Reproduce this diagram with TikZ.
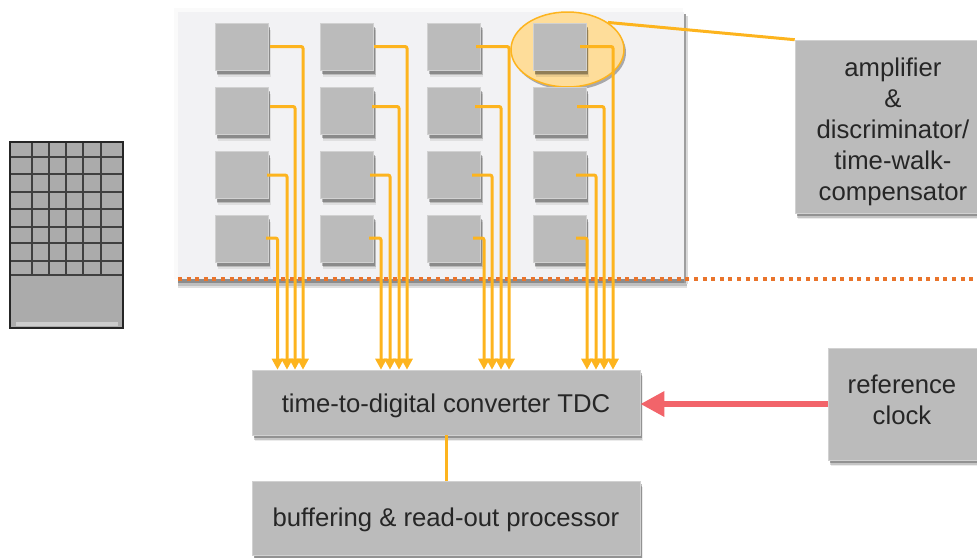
\documentclass[tikz,border=0pt]{standalone}
\usepackage{fontspec}
\setmainfont{Liberation Sans}
\usetikzlibrary{arrows.meta,shadows,calc,shapes.geometric}
\definecolor{wire}{HTML}{FDB41E}
\definecolor{boxgray}{HTML}{BBBBBB}
\definecolor{redarrow}{HTML}{F2646A}
\definecolor{dots}{HTML}{E9742B}
\definecolor{panelgray}{HTML}{F2F2F4}
\definecolor{chipgray}{HTML}{ABABAB}
\newcommand{\lift}[1]{\rule{0pt}{#1pt}}
\tikzset{
  softshadow/.style={
    general shadow={shadow xshift=2.5pt,shadow yshift=-6pt,fill=black,opacity=.08},
    general shadow={shadow xshift=2pt,shadow yshift=-4.5pt,fill=black,opacity=.16},
    general shadow={shadow xshift=1.5pt,shadow yshift=-3pt,fill=black,opacity=.26}},
  cell/.style={draw=black!18,line width=.6pt,fill=boxgray,minimum width=53pt,minimum height=47pt,inner sep=0pt,softshadow},
  bigbox/.style={draw=black!18,line width=.6pt,fill=boxgray,inner sep=0pt,align=center,softshadow,font=\fontsize{25.7}{31}\selectfont,text=black!85},
  sig/.style={draw=wire,line width=3pt,rounded corners=2pt},
  sigarrow/.style={sig,-{Triangle[width=11pt,length=11pt]}},
  chipline/.style={draw=black!75,line width=1.3pt}
}
\begin{document}
\begin{tikzpicture}[x=1pt,y=-1pt]
\useasboundingbox (0,0) rectangle (977,557);
% panel
\fill[black!2] (174,8) rectangle (683,279);
\fill[panelgray] (178,12) rectangle (684,279);
\fill[black!12] (178,283) rectangle (687,288);
\fill[black!25] (178,282) rectangle (687,285.5);
\fill[black!45] (178,279) rectangle (686,283);
\fill[black!15] (686,16) rectangle (688,284);
\fill[black!38] (683.5,14) rectangle (686,283);
% ellipse
\node[draw=wire,line width=1.5pt,fill=wire!45,ellipse,inner sep=0pt,minimum width=113pt,minimum height=75pt,
      general shadow={shadow xshift=2pt,shadow yshift=-3pt,fill=black,opacity=.3}] (ell) at (567.5,49.5) {};
% cells
\foreach \cx [count=\c] in {241.5,347,454,559.5}
  \foreach \cy [count=\r] in {47,111,175,239}
    \node[cell] (s\c\r) at (\cx,\cy) {};
% boxes
\node[bigbox,minimum width=388pt,minimum height=65pt] (tdc) at (446,402.5) {\lift{25}time-to-digital converter TDC};
\node[bigbox,minimum width=388pt,minimum height=74pt] (buf) at (446,518) {\lift{23}buffering \& read-out processor};
\node[bigbox,minimum width=196pt,minimum height=173pt] (amp) at (893,126.5) {\lift{29}amplifier\\\&\\discriminator/\\time-walk-\\compensator};
\node[bigbox,minimum width=158pt,minimum height=112pt] (clk) at (907,404) {\hspace*{-10pt}reference\\\hspace*{-10pt}clock\rule[-8pt]{0pt}{8pt}};
% dotted border
\coordinate (dotL) at (178,279);
\coordinate (dotR) at (977,279);
\draw[dots,line width=3.5pt,dash pattern=on 4pt off 4.6pt] (dotL) -- (dotR);
% wires
\foreach \sx/\wy/\vx [count=\i] in {270/46.5/303, 270/106.5/295, 267/175/287, 266/238/277.5,
    374/46.5/407, 372/106.5/399, 370/175/390, 369/238/381,
    476/46.5/509, 475/106.5/501, 472/175/492, 473/238/484,
    580/46.5/613, 577/106.5/604, 576/175/596, 576/238/587}{
  \coordinate (w\i) at (\sx,\wy);
  \coordinate (v\i) at (\vx,0);
  \draw[sigarrow] (w\i) -| (v\i |- tdc.north);
}
% callout
\draw[draw=wire,line width=3pt] (ell.north east) -- (amp.north west);
% links
\draw[draw=wire,line width=3pt] (tdc.south) -- (buf.north);
\draw[draw=redarrow,line width=6pt,-{Triangle[width=24pt,length=24pt]}] (clk.west) -- (clk.west -| tdc.east);
% chip
\node[draw=none,fill=chipgray,minimum width=113pt,minimum height=186pt,inner sep=0pt] (chip) at (66.5,235) {};
\fill[white!80!black] (16,322) rectangle (118,325.5);
\foreach \x in {32,49,66,83,101}
  \draw[chipline] (\x,142) -- (\x,275);
\foreach \y in {157,174,192,209,227,243,261,275}
  \draw[chipline] (10,\y) -- (123,\y);
\draw[draw=black!85,line width=1.6pt] (chip.north west) rectangle (chip.south east);
\end{tikzpicture}
\end{document}
